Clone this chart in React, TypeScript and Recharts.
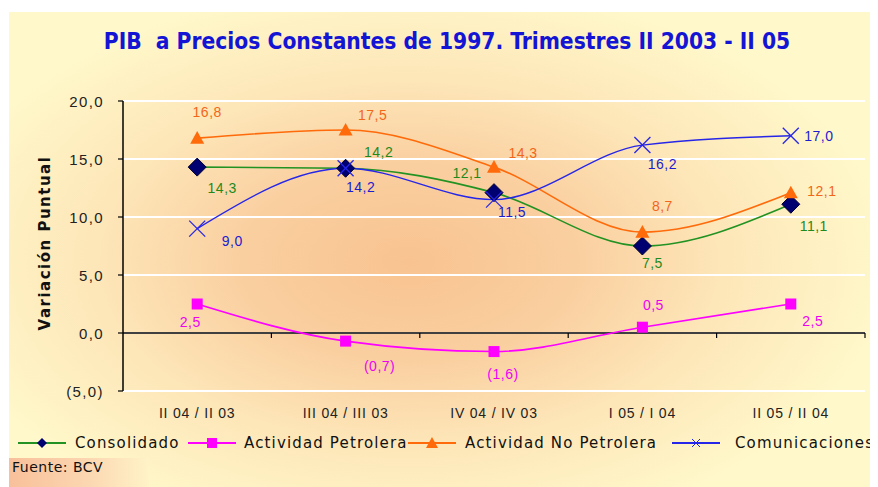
import React from 'react';
import { LineChart, Line, XAxis, YAxis, CartesianGrid, ReferenceLine, LabelList } from 'recharts';

const categories = ['II 04 / II 03', 'III 04 / III 03', 'IV 04 / IV 03', 'I 05 / I 04', 'II 05 / II 04'];
const consolidado = [14.3, 14.2, 12.1, 7.5, 11.1];
const petrolera = [2.5, -0.7, -1.6, 0.5, 2.5];
const noPetrolera = [16.8, 17.5, 14.3, 8.7, 12.1];
const comunicaciones = [9.0, 14.2, 11.5, 16.2, 17.0];
const yTicks = [-5, 0, 5, 10, 15, 20];

const data = categories.map((c, i) => ({
  cat: c,
  consolidado: consolidado[i],
  petrolera: petrolera[i],
  noPetrolera: noPetrolera[i],
  comunicaciones: comunicaciones[i],
}));

const W = 878;
const H = 487;
const M = { top: 101, right: 13, bottom: 66, left: 0 };
const Y_AXIS_W = 123;
const X_AXIS_H = 30;
const PLOT_W = W - M.left - M.right - Y_AXIS_W;
const PLOT_H = H - M.top - M.bottom - X_AXIS_H;
const PLOT_TOP = M.top;
const Y_MIN = -5;
const Y_MAX = 20;
const zeroY = PLOT_TOP + ((Y_MAX - 0) / (Y_MAX - Y_MIN)) * PLOT_H;

const fmt = (v: number) => {
  const s = Math.abs(v).toFixed(1).replace('.', ',');
  return v < 0 ? `(${s})` : s;
};

const C_GREEN = '#229222';
const C_NAVY = '#000070';
const C_MAG = '#FF00FF';
const C_ORANGE = '#FF6A0A';
const C_BLUE = '#2626E8';

// label offsets (dx, dy) per point, styling only
const offConsol = [[25, 21], [33, -16], [-27, -20], [10, 17], [23, 22]];
const offPetro = [[-7, 18], [34, 25], [9, 22], [11, -22], [22, 17]];
const offNoPetro = [[10, -26], [27, -15], [29, -14], [20, -26], [31, -2]];
const offCom = [[35, 12], [15, 19], [18, 12], [20, 19], [28, 0]];

const makeLabel = (offs: number[][], color: string) => (props: any) => {
  const { x, y, value, index } = props;
  const [dx, dy] = offs[index] || [0, 0];
  return (
    <text x={x + dx} y={y + dy} fill={color} fontSize={14} fontFamily="Liberation Sans, Arial, sans-serif" letterSpacing={0.5} textAnchor="middle" dominantBaseline="central">
      {fmt(value)}
    </text>
  );
};

const Diamond = (props: any) => {
  const { cx, cy } = props;
  if (cx == null || cy == null) return null;
  const r = 9;
  return <path d={`M${cx},${cy - r}L${cx + r},${cy}L${cx},${cy + r}L${cx - r},${cy}Z`} fill={C_NAVY} stroke="#000030" strokeWidth={1} />;
};
const Square = (props: any) => {
  const { cx, cy } = props;
  if (cx == null || cy == null) return null;
  const r = 5.5;
  return <rect x={cx - r} y={cy - r} width={2 * r} height={2 * r} fill={C_MAG} />;
};
const Triangle = (props: any) => {
  const { cx, cy } = props;
  if (cx == null || cy == null) return null;
  const r = 7;
  return <path d={`M${cx},${cy - r}L${cx + r},${cy + r * 0.8}L${cx - r},${cy + r * 0.8}Z`} fill={C_ORANGE} />;
};
const Cross = (props: any) => {
  const { cx, cy } = props;
  if (cx == null || cy == null) return null;
  const r = 8;
  return (
    <g stroke={C_BLUE} strokeWidth={1.3}>
      <line x1={cx - r} y1={cy - r} x2={cx + r} y2={cy + r} />
      <line x1={cx - r} y1={cy + r} x2={cx + r} y2={cy - r} />
    </g>
  );
};

const XTick = (props: any) => {
  const { x, y, payload } = props;
  const band = PLOT_W / categories.length;
  return (
    <g>
      <line x1={x + band / 2} y1={zeroY} x2={x + band / 2} y2={zeroY + 5} stroke="#000" strokeWidth={1.2} />
      <text x={x} y={y + 14} textAnchor="middle" fill="#222" fontSize={14} fontFamily="Liberation Sans, Arial, sans-serif" letterSpacing={0.8} dominantBaseline="central">
        {payload.value}
      </text>
    </g>
  );
};

const YTick = (props: any) => {
  const { x, y, payload } = props;
  return (
    <text x={x} y={y} textAnchor="end" fill="#222" fontSize={15} fontFamily="Liberation Sans, Arial, sans-serif" letterSpacing={1.4} dominantBaseline="central">
      {fmt(payload.value)}
    </text>
  );
};

const legendItems = [
  { name: 'Consolidado', color: C_GREEN, marker: 'diamond', left: 18, gap: 9 },
  { name: 'Actividad Petrolera', color: C_MAG, marker: 'square', left: 188, gap: 8 },
  { name: 'Actividad No Petrolera', color: C_ORANGE, marker: 'triangle', left: 408, gap: 9 },
  { name: 'Comunicaciones', color: C_BLUE, marker: 'cross', left: 672, gap: 15 },
];

const LegendIcon = ({ color, marker }: { color: string; marker: string }) => {
  const cx = 24;
  const cy = 8;
  let m: React.ReactNode = null;
  if (marker === 'diamond') m = <path d={`M${cx},${cy - 5}L${cx + 5},${cy}L${cx},${cy + 5}L${cx - 5},${cy}Z`} fill={C_NAVY} />;
  if (marker === 'square') m = <rect x={cx - 5} y={cy - 5} width={10} height={10} fill={C_MAG} />;
  if (marker === 'triangle') m = <path d={`M${cx},${cy - 6}L${cx + 6},${cy + 5}L${cx - 6},${cy + 5}Z`} fill={C_ORANGE} />;
  if (marker === 'cross')
    m = (
      <g stroke={C_BLUE} strokeWidth={1}>
        <line x1={cx - 4} y1={cy - 4} x2={cx + 4} y2={cy + 4} />
        <line x1={cx - 4} y1={cy + 4} x2={cx + 4} y2={cy - 4} />
      </g>
    );
  return (
    <svg width={48} height={16} style={{ display: 'block' }}>
      <line x1={0} y1={cy} x2={48} y2={cy} stroke={color} strokeWidth={2} />
      {m}
    </svg>
  );
};

export default function App() {
  return (
    <div style={{ position: 'relative', width: W, height: H, marginLeft: -8, marginTop: -8, background: '#fff', overflow: 'hidden' }}>
      <div
        style={{
          position: 'absolute',
          left: 9,
          top: 12,
          width: W - 9,
          height: H - 12,
          background: 'radial-gradient(ellipse 480px 280px at 400px 250px, #F8C390 0%, #FACFA0 35%, #FDE6B8 65%, #FFF8CA 100%)',
        }}
      />
      <div
        style={{
          position: 'absolute',
          left: 9,
          top: 458,
          width: 140,
          height: 29,
          background: 'linear-gradient(90deg, #F8C09A 0%, #FBD6B0 55%, #FFF3C8 100%)',
        }}
      />
      <div
        style={{
          position: 'absolute',
          left: 0,
          top: 28,
          width: 894,
          textAlign: 'center',
          color: '#1414D4',
          fontFamily: 'DejaVu Sans Condensed, DejaVu Sans, sans-serif',
          fontWeight: 'bold',
          fontSize: 22.6,
          whiteSpace: 'nowrap',
        }}
      >
        PIB&nbsp; a Precios Constantes de 1997. Trimestres II 2003 - II 05
      </div>
      <div
        style={{
          position: 'absolute',
          left: 45,
          top: 243,
          transform: 'translate(-50%, -50%) rotate(-90deg)',
          fontFamily: 'DejaVu Sans, sans-serif',
          fontWeight: 'bold',
          fontSize: 15,
          letterSpacing: 1.5,
          color: '#111',
          whiteSpace: 'nowrap',
        }}
      >
        Variación Puntual
      </div>
      <div style={{ position: 'absolute', left: 0, top: 0 }}>
        <LineChart width={W} height={H} data={data} margin={M}>
          <CartesianGrid horizontal vertical={false} stroke="#FFFFFF" strokeWidth={2} />
          <XAxis dataKey="cat" scale="band" height={X_AXIS_H} axisLine={false} tickLine={false} tick={<XTick />} interval={0} />
          <YAxis
            width={Y_AXIS_W}
            domain={[Y_MIN, Y_MAX]}
            ticks={yTicks}
            tick={<YTick />}
            axisLine={{ stroke: '#000', strokeWidth: 1.5 }}
            tickLine={{ stroke: '#000', strokeWidth: 1.2 }}
            tickSize={5}
            tickMargin={14}
            interval={0}
          />
          <ReferenceLine y={0} stroke="#000" strokeWidth={1.5} />
          <Line type="monotone" dataKey="consolidado" stroke={C_GREEN} strokeWidth={1.6} dot={<Diamond />} activeDot={false} isAnimationActive={false}>
            <LabelList dataKey="consolidado" content={makeLabel(offConsol, '#1E8A1E')} />
          </Line>
          <Line type="monotone" dataKey="petrolera" stroke={C_MAG} strokeWidth={1.6} dot={<Square />} activeDot={false} isAnimationActive={false}>
            <LabelList dataKey="petrolera" content={makeLabel(offPetro, '#F000F0')} />
          </Line>
          <Line type="monotone" dataKey="noPetrolera" stroke={C_ORANGE} strokeWidth={1.6} dot={<Triangle />} activeDot={false} isAnimationActive={false}>
            <LabelList dataKey="noPetrolera" content={makeLabel(offNoPetro, '#F2661A')} />
          </Line>
          <Line type="monotone" dataKey="comunicaciones" stroke={C_BLUE} strokeWidth={1.4} dot={<Cross />} activeDot={false} isAnimationActive={false}>
            <LabelList dataKey="comunicaciones" content={makeLabel(offCom, '#1C1CD0')} />
          </Line>
        </LineChart>
      </div>
      {legendItems.map((it) => (
        <div key={it.name} style={{ position: 'absolute', left: it.left, top: 435, display: 'flex', alignItems: 'center', height: 16 }}>
          <LegendIcon color={it.color} marker={it.marker} />
          <span
            style={{
              marginLeft: it.gap,
              fontFamily: 'DejaVu Sans, sans-serif',
              fontSize: 15,
              letterSpacing: 1.15,
              color: '#111',
              whiteSpace: 'nowrap',
            }}
          >
            {it.name}
          </span>
        </div>
      ))}
      <div
        style={{
          position: 'absolute',
          left: 12,
          top: 459,
          fontFamily: 'DejaVu Sans, sans-serif',
          fontSize: 14,
          letterSpacing: 0.5,
          color: '#111',
        }}
      >
        Fuente: BCV
      </div>
    </div>
  );
}
